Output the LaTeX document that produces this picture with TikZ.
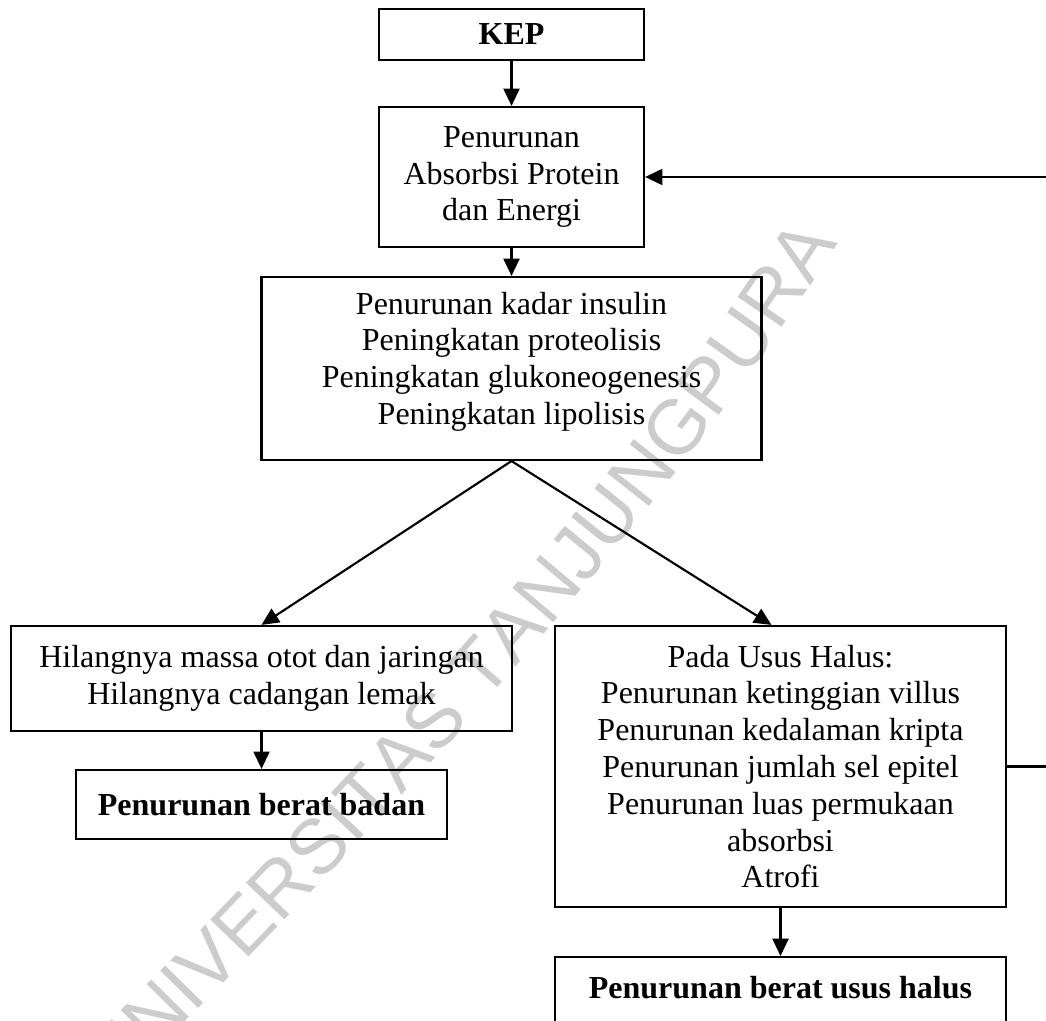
\documentclass[tikz,border=0pt]{standalone}
\usepackage{fontspec}
\setmainfont{Liberation Serif}
\newfontfamily\wmfont{Liberation Sans}
\usetikzlibrary{arrows.meta,decorations.text}

\tikzset{
	teks/.style={align=center, inner sep=0pt, font=\fontsize{12}{13.8}\selectfont},
	kotak/.style={teks, draw, line width=0.8pt},
	panah/.style={line width=0.8pt, -{Triangle[length=6.5pt,width=6pt]}},
}

\begin{document}
\begin{tikzpicture}[x=0.375pt,y=-0.375pt]
	\useasboundingbox (0,0) rectangle (1046,1020);
	\clip (0,0) rectangle (1046,1020);

	% watermark
	\path [decorate, decoration={text along path, text align=center, text color=black!20,
		text={|\wmfont\fontsize{29}{32}\selectfont|UNIVERSITAS TANJUNGPURA}}]
		(105,1102) .. controls (350,860) and (660,530) .. (845,232);

	\node[kotak, minimum width=99.4pt, minimum height=19.1pt] (kep) at (511.5,34.5) {\textbf{KEP}};
	\node[kotak, minimum width=99.4pt, minimum height=52.5pt] (absorbsi) at (511.5,177)
		{Penurunan\\Absorbsi Protein\\dan Energi};
	\node[kotak, minimum width=187.5pt, minimum height=68.6pt] (metabolik) at (511.5,368.5) {};
	\node[teks] (metabolikteks) at ([yshift=2.6pt]metabolik)
		{Penurunan kadar insulin\\Peningkatan proteolisis\\Peningkatan glukoneogenesis\\Peningkatan lipolisis};

	\node[kotak, minimum width=187.9pt, minimum height=39.4pt] (otot) at (261.5,678.5)
		{Hilangnya massa otot dan jaringan\\Hilangnya cadangan lemak};
	\node[kotak, minimum width=139.1pt, minimum height=25.9pt] (badan) at (261.5,804.5)
		{\textbf{Penurunan berat badan}};

	\node[kotak, minimum width=169.1pt, minimum height=105.4pt] (usus) at (780.5,766.5)
		{Pada Usus Halus:\\Penurunan ketinggian villus\\Penurunan kedalaman kripta\\Penurunan jumlah sel epitel\\Penurunan luas permukaan\\absorbsi\\Atrofi};
	\node[kotak, anchor=north, minimum width=169.1pt, text height=15.4pt, text depth=14pt] (beratusus) at (780.5,956)
		{\textbf{Penurunan berat usus halus}};

	\draw[panah] (kep) -- (absorbsi);
	\draw[panah] (absorbsi) -- (metabolik);
	\draw[panah] (metabolik.south) -- (otot.north);
	\draw[panah] (metabolik.south) -- ([xshift=-3.4pt]usus.north);
	\draw[panah] (otot) -- (badan);
	\draw[panah] (usus) -- (beratusus);
	\draw[panah] (usus.east) -- ++(80,0) |- (absorbsi.east);
\end{tikzpicture}
\end{document}
